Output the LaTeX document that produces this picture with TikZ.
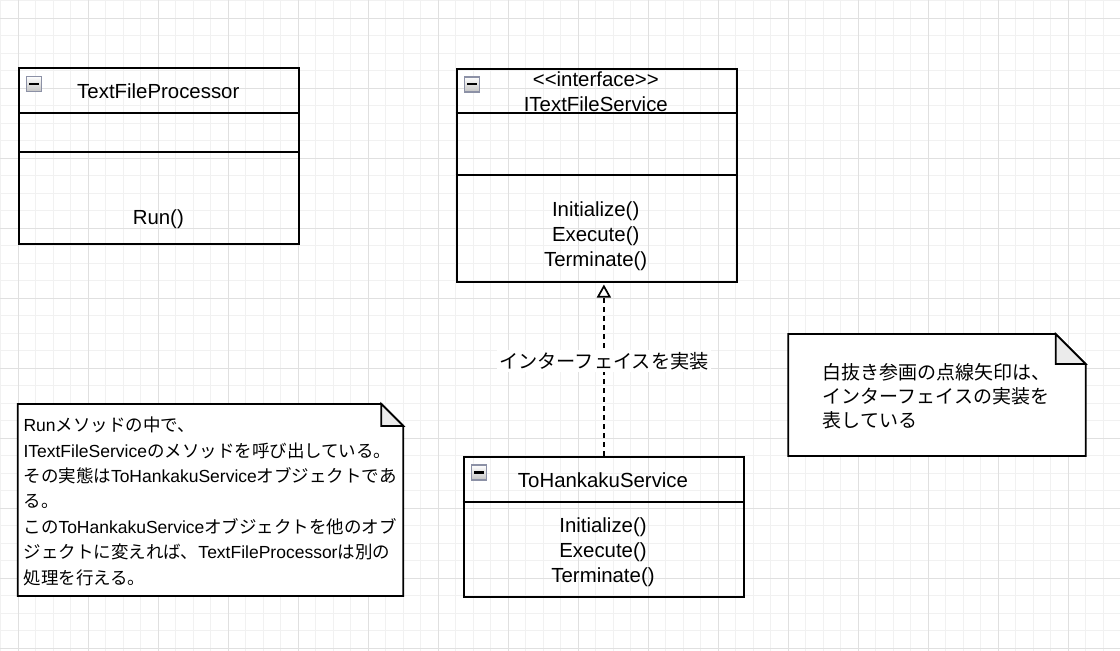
\documentclass[tikz,border=0pt]{standalone}
\usepackage{fontspec}
\setmainfont{Liberation Sans}
\newfontfamily\jp{Noto Sans CJK JP}
\usetikzlibrary{arrows.meta,calc}
\definecolor{gridminor}{HTML}{F1F1F1}
\definecolor{gridmajor}{HTML}{E0E0E0}
\definecolor{foldgray}{HTML}{EBEBEB}
\definecolor{iconborder}{HTML}{8C91A6}
\definecolor{iconbottom}{HTML}{C4C4C4}
\begin{document}
\begin{tikzpicture}[x=1pt,y=-1pt,
  minorline/.style={draw=gridminor,line width=0.8pt},
  majorline/.style={draw=gridmajor,line width=0.9pt},
  classbox/.style={draw=black,line width=1.8pt,minimum width=280pt,anchor=north west,inner sep=0pt},
  divider/.style={draw=black,line width=1.8pt},
  ctext/.style={font=\fontsize{20.4}{24.7}\selectfont,inner sep=0pt,anchor=base},
  notebox/.style={draw=black,line width=1.8pt,fill=white,line join=miter},
  foldbox/.style={draw=black,line width=1.8pt,fill=foldgray,line join=miter},
  n1text/.style={font=\fontsize{17.5}{25.4}\selectfont,inner sep=0pt,anchor=base west,align=left},
  n2text/.style={font=\jp\fontsize{19}{24}\selectfont,inner sep=0pt,anchor=base west,align=left},
  implarrow/.style={draw=black,line width=1.7pt,dash pattern=on 5.5pt off 3.5pt,
    -{Triangle[open,length=13pt,width=14pt,fill=white]},shorten >=2pt},
  edgelabel/.style={font=\jp\fontsize{19.2}{22}\selectfont,fill=white,inner sep=2pt},
  collapse/.pic={
    \path[draw=iconborder,line width=1.4pt,top color=white,bottom color=iconbottom] (0.6,0.6) rectangle (15.6,15.6);
    \draw[black,line width=2.2pt] (3.4,7.9) -- (12.8,7.9);
  }
]
\useasboundingbox (0,0) rectangle (1120,651);
\fill[white] (0,0) rectangle (1120,651);
% grid
\foreach \i in {0,...,64} \draw[minorline] ({0.5+17.5*\i},0) -- ({0.5+17.5*\i},651);
\foreach \j in {0,...,37} \draw[minorline] (0,{0.5+17.5*\j}) -- (1120,{0.5+17.5*\j});
\foreach \i in {0,...,15} \draw[majorline] ({18+70*\i},0) -- ({18+70*\i},651);
\foreach \j in {0,...,9} \draw[majorline] (0,{18+70*\j}) -- (1120,{18+70*\j});

% TextFileProcessor
\node[classbox,minimum height=175.4pt] (tfp) at (18.3,67.3) {};
\draw[divider] ([yshift=-45.4pt]tfp.north west) -- ([yshift=-45.4pt]tfp.north east);
\draw[divider] ([yshift=-84.4pt]tfp.north west) -- ([yshift=-84.4pt]tfp.north east);
\pic at (25.7,75.7) {collapse};
\node[ctext] (tfpname) at (158.3,98.5) {TextFileProcessor};
\node[ctext] (tfprun) at (158.3,224.5) {Run()};

% ITextFileService
\node[classbox,minimum height=213pt] (itfs) at (455.7,67.7) {};
\draw[divider] ([yshift=-45pt]itfs.north west) -- ([yshift=-45pt]itfs.north east);
\draw[divider] ([yshift=-107.3pt]itfs.north west) -- ([yshift=-107.3pt]itfs.north east);
\pic at (464,76.2) {collapse};
\node[ctext,align=center] (itfsname) at (595.8,111) {<\kern0pt<interface>\kern0pt>\\ITextFileService};
\node[ctext,align=center] (itfsops) at (595.7,266) {Initialize()\\Execute()\\Terminate()};

% ToHankakuService
\node[classbox,minimum width=280.6pt,minimum height=140pt] (ths) at (462.7,456) {};
\draw[divider] ([yshift=-45.7pt]ths.north west) -- ([yshift=-45.7pt]ths.north east);
\pic at (471,464.5) {collapse};
\node[ctext] (thsname) at (603,487.7) {ToHankakuService};
\node[ctext,align=center] (thsops) at (603,582) {Initialize()\\Execute()\\Terminate()};

% realization arrow
\draw[implarrow] (ths.north) -- (ths.north |- itfs.south)
  node[edgelabel,pos=0.548] (impl) {インターフェイスを実装};

% note 1
\draw[notebox] (17.7,404) -- (381.3,404) -- (403.3,426) -- (403.3,596) -- (17.7,596) -- cycle;
\draw[foldbox] (381.3,404) -- (381.3,426) -- (403.3,426) -- cycle;
\node[n1text] (note1) at (23.3,584) {Run{\jp メソッドの中で、}\\ITextFileService{\jp のメソッドを呼び出している。}\\{\jp その実態は}ToHankakuService{\jp オブジェクトであ}\\{\jp る。}\\{\jp この}ToHankakuService{\jp オブジェクトを他のオブ}\\{\jp ジェクトに変えれば、}TextFileProcessor{\jp は別の}\\{\jp 処理を行える。}};

% note 2
\draw[notebox] (788.3,334) -- (1055.7,334) -- (1085.7,364) -- (1085.7,456) -- (788.3,456) -- cycle;
\draw[foldbox] (1055.7,334) -- (1055.7,364) -- (1085.7,364) -- cycle;
\node[n2text] (note2) at (822.7,427) {白抜き参画の点線矢印は、\\インターフェイスの実装を\\表している};
\end{tikzpicture}
\end{document}
